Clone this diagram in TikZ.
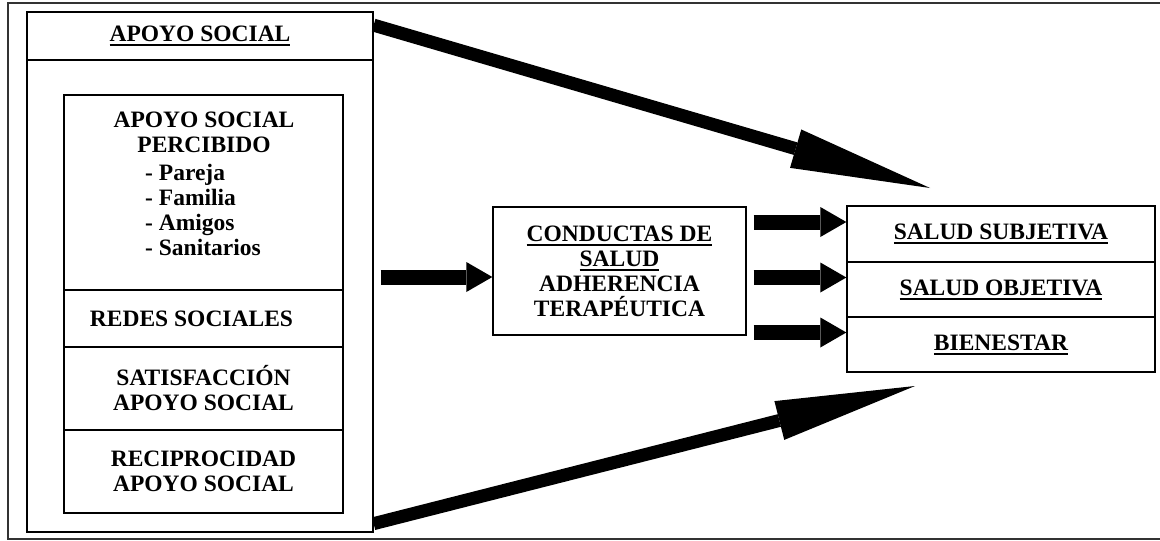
\documentclass[tikz,border=0pt]{standalone}
\usepackage{fontspec}
\setmainfont{Liberation Serif}
\usepackage{tikz}
\usetikzlibrary{positioning}
\usetikzlibrary{arrows.meta}
\usetikzlibrary{calc}
\newcommand{\undl}[1]{\setbox0\hbox{#1}\rlap{\rule[-4.5pt]{\wd0}{1.6pt}}\box0}

\begin{document}
\begin{tikzpicture}[x=1pt,y=-1pt,
	font=\fontsize{23.5}{25}\selectfont\bfseries]
	\useasboundingbox (0,0) rectangle (1160,541);
	% open frame round the whole model
	\draw[line width=1.8pt, black!80] (1166,3) -| (8,539) -- (1166,539);

	\begin{scope}[every node/.style={draw,line width=1.3pt,rectangle,align=center,inner sep=0pt}]
	    \node (col) [minimum width=346pt, minimum height=520pt] at (200,272) {};
	    \node (head) [minimum width=346pt, minimum height=48pt] at (200,36) {\undl{APOYO SOCIAL}};
	    \node (perc) [minimum width=279pt, minimum height=195pt] at (203.5,192.5) {};
	    \node (redes) [minimum width=279pt, minimum height=57pt] at (203.5,318.5) {REDES SOCIALES\hspace*{24pt}};
	    \node (satisf) [minimum width=279pt, minimum height=83pt] at (203.5,388.5) {SATISFACCI\'ON\\APOYO SOCIAL};
	    \node (recip) [minimum width=279pt, minimum height=83pt] at (203.5,471.5) {RECIPROCIDAD\\APOYO SOCIAL};
	    \node (cond) [minimum width=253pt, minimum height=128pt] at (619.5,271) {\undl{CONDUCTAS DE}\\\undl{SALUD}\\ADHERENCIA\\TERAP\'EUTICA};
	    \node (subj) [minimum width=308pt, minimum height=56pt] at (1001,234) {\undl{SALUD SUBJETIVA}};
	    \node (obj) [minimum width=308pt, minimum height=55pt] at (1001,289.5) {\undl{SALUD OBJETIVA}};
	    \node (bien) [minimum width=308pt, minimum height=55pt] at (1001,344.5) {\undl{BIENESTAR}};
	\end{scope}

	\node (percTitle) [anchor=north, align=center, inner sep=0pt] at (204,112) {APOYO SOCIAL\\PERCIBIDO};
	\node (percList) [anchor=north west, align=left, inner sep=0pt] at (145,164) {- Pareja\\- Familia\\- Amigos\\- Sanitarios};

	\coordinate (topTip) at (930,188);
	\coordinate (bottomTip) at (915,386);

	\begin{scope}[bigarrow/.style={line width=13pt, -{Triangle[length=140pt,width=40pt,line width=0pt]}},
	              jagarrow/.style={line width=15pt, -{Triangle[length=26pt,width=30pt,line width=0pt]}}]
    	\draw [bigarrow] ($(head.north east)!0.28!(head.south east)$) -- (topTip);
    	\draw [bigarrow] ($(col.south east)+(0,-9)$) -- (bottomTip);
    	\draw [jagarrow] ($(col.east |- cond.west)+(7,6)$) -- ($(cond.west)+(0,6)$);
    	\draw [jagarrow] ($(cond.east |- subj.west)+(7,-12)$) -- ($(subj.west)+(0,-12)$);
    	\draw [jagarrow] ($(cond.east |- obj.west)+(7,-12)$) -- ($(obj.west)+(0,-12)$);
    	\draw [jagarrow] ($(cond.east |- bien.west)+(7,-12)$) -- ($(bien.west)+(0,-12)$);
	\end{scope}
\end{tikzpicture}
\end{document}
